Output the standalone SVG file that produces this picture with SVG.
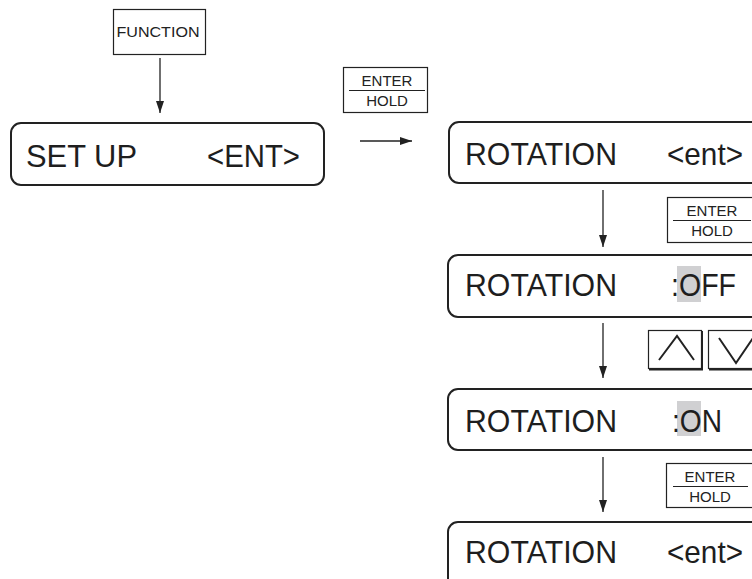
<svg xmlns="http://www.w3.org/2000/svg" width="752" height="579" viewBox="0 0 752 579">
<defs>
<style>
.lcd{fill:#fff;stroke:#222;stroke-width:2}
.btn{fill:#fff;stroke:#222;stroke-width:1.2}
.big{font-family:"Liberation Sans",Arial,sans-serif;font-size:32px;fill:#1e1e1e}
.sm{font-family:"Liberation Sans",Arial,sans-serif;font-size:15px;fill:#222;text-anchor:middle}
.conn{stroke:#222;stroke-width:1.3;fill:none}
.hl{fill:#d0d0d2}
</style>
<marker id="ah" viewBox="0 0 12 8" refX="12" refY="4" markerWidth="12" markerHeight="8" markerUnits="userSpaceOnUse" orient="auto">
<path d="M0,0 L12,4 L0,8 Z" fill="#222"/>
</marker>
</defs>
<rect width="752" height="579" fill="#fff"/>

<g id="btn-function">
<rect class="btn" x="113.5" y="9.5" width="92" height="45"/>
<text class="sm" x="158" y="37" font-size="16" textLength="83" lengthAdjust="spacingAndGlyphs">FUNCTION</text>
</g>

<g id="btn-enter1">
<rect class="btn" x="343.5" y="67.5" width="84" height="45"/>
<text class="sm" x="387" y="86">ENTER</text>
<line x1="349" y1="90.5" x2="425" y2="90.5" stroke="#222" stroke-width="1.2"/>
<text class="sm" x="387" y="106">HOLD</text>
</g>

<g id="lcd-setup">
<rect class="lcd" x="11" y="123" width="313" height="62" rx="10"/>
<text class="big" x="26" y="167" font-size="33" textLength="111" lengthAdjust="spacingAndGlyphs">SET UP</text>
<text class="big" x="207" y="167" font-size="33" textLength="93" lengthAdjust="spacingAndGlyphs">&lt;ENT&gt;</text>
</g>

<g id="lcd-rotation-ent1">
<rect class="lcd" x="449" y="122" width="320" height="61" rx="10"/>
<text class="big" x="465" y="165" textLength="152" lengthAdjust="spacingAndGlyphs">ROTATION</text>
<text class="big" x="667" y="165" textLength="76" lengthAdjust="spacingAndGlyphs">&lt;ent&gt;</text>
</g>

<g id="btn-enter2">
<rect class="btn" x="667.5" y="197.5" width="88" height="45"/>
<text class="sm" x="712" y="216">ENTER</text>
<line x1="673" y1="220.5" x2="751" y2="220.5" stroke="#222" stroke-width="1.2"/>
<text class="sm" x="712" y="236">HOLD</text>
</g>

<g id="lcd-rotation-off">
<rect class="lcd" x="448" y="255" width="320" height="62" rx="10"/>
<rect class="hl" x="677" y="266" width="24" height="36"/>
<text class="big" x="465" y="296" textLength="152" lengthAdjust="spacingAndGlyphs">ROTATION</text>
<text class="big" x="671" y="296" textLength="65" lengthAdjust="spacingAndGlyphs">:OFF</text>
</g>

<g id="btn-up">
<rect class="btn" x="648.5" y="330.5" width="53" height="38"/>
<polyline points="702,331 702,369.5 649,369.5" fill="none" stroke="#222" stroke-width="2"/>
<polyline points="659,360 677,336 694,360" fill="none" stroke="#222" stroke-width="2"/>
</g>

<g id="btn-down">
<rect class="btn" x="708.5" y="330.5" width="53" height="38"/>
<polyline points="709,369.5 762,369.5" fill="none" stroke="#222" stroke-width="2"/>
<polyline points="719,338 736,363 753,338" fill="none" stroke="#222" stroke-width="2"/>
</g>

<g id="lcd-rotation-on">
<rect class="lcd" x="448" y="389" width="320" height="61" rx="10"/>
<rect class="hl" x="677" y="401" width="24" height="35"/>
<text class="big" x="465" y="432" textLength="152" lengthAdjust="spacingAndGlyphs">ROTATION</text>
<text class="big" x="672" y="432" textLength="50" lengthAdjust="spacingAndGlyphs">:ON</text>
</g>

<g id="btn-enter3">
<rect class="btn" x="666.5" y="463.5" width="88" height="44"/>
<text class="sm" x="710" y="482">ENTER</text>
<line x1="673" y1="486.5" x2="748" y2="486.5" stroke="#222" stroke-width="1.2"/>
<text class="sm" x="710" y="502">HOLD</text>
</g>

<g id="lcd-rotation-ent2">
<rect class="lcd" x="448" y="522" width="320" height="70" rx="10"/>
<text class="big" x="465" y="563" textLength="152" lengthAdjust="spacingAndGlyphs">ROTATION</text>
<text class="big" x="667" y="563" textLength="76" lengthAdjust="spacingAndGlyphs">&lt;ent&gt;</text>
</g>

<g id="connectors">
<line class="conn" x1="160" y1="58" x2="160" y2="113" marker-end="url(#ah)"/>
<line class="conn" x1="360" y1="141" x2="412" y2="141" marker-end="url(#ah)"/>
<line class="conn" x1="603" y1="190" x2="603" y2="247" marker-end="url(#ah)"/>
<line class="conn" x1="603" y1="323" x2="603" y2="378" marker-end="url(#ah)"/>
<line class="conn" x1="603" y1="457" x2="603" y2="512" marker-end="url(#ah)"/>
</g>
</svg>
